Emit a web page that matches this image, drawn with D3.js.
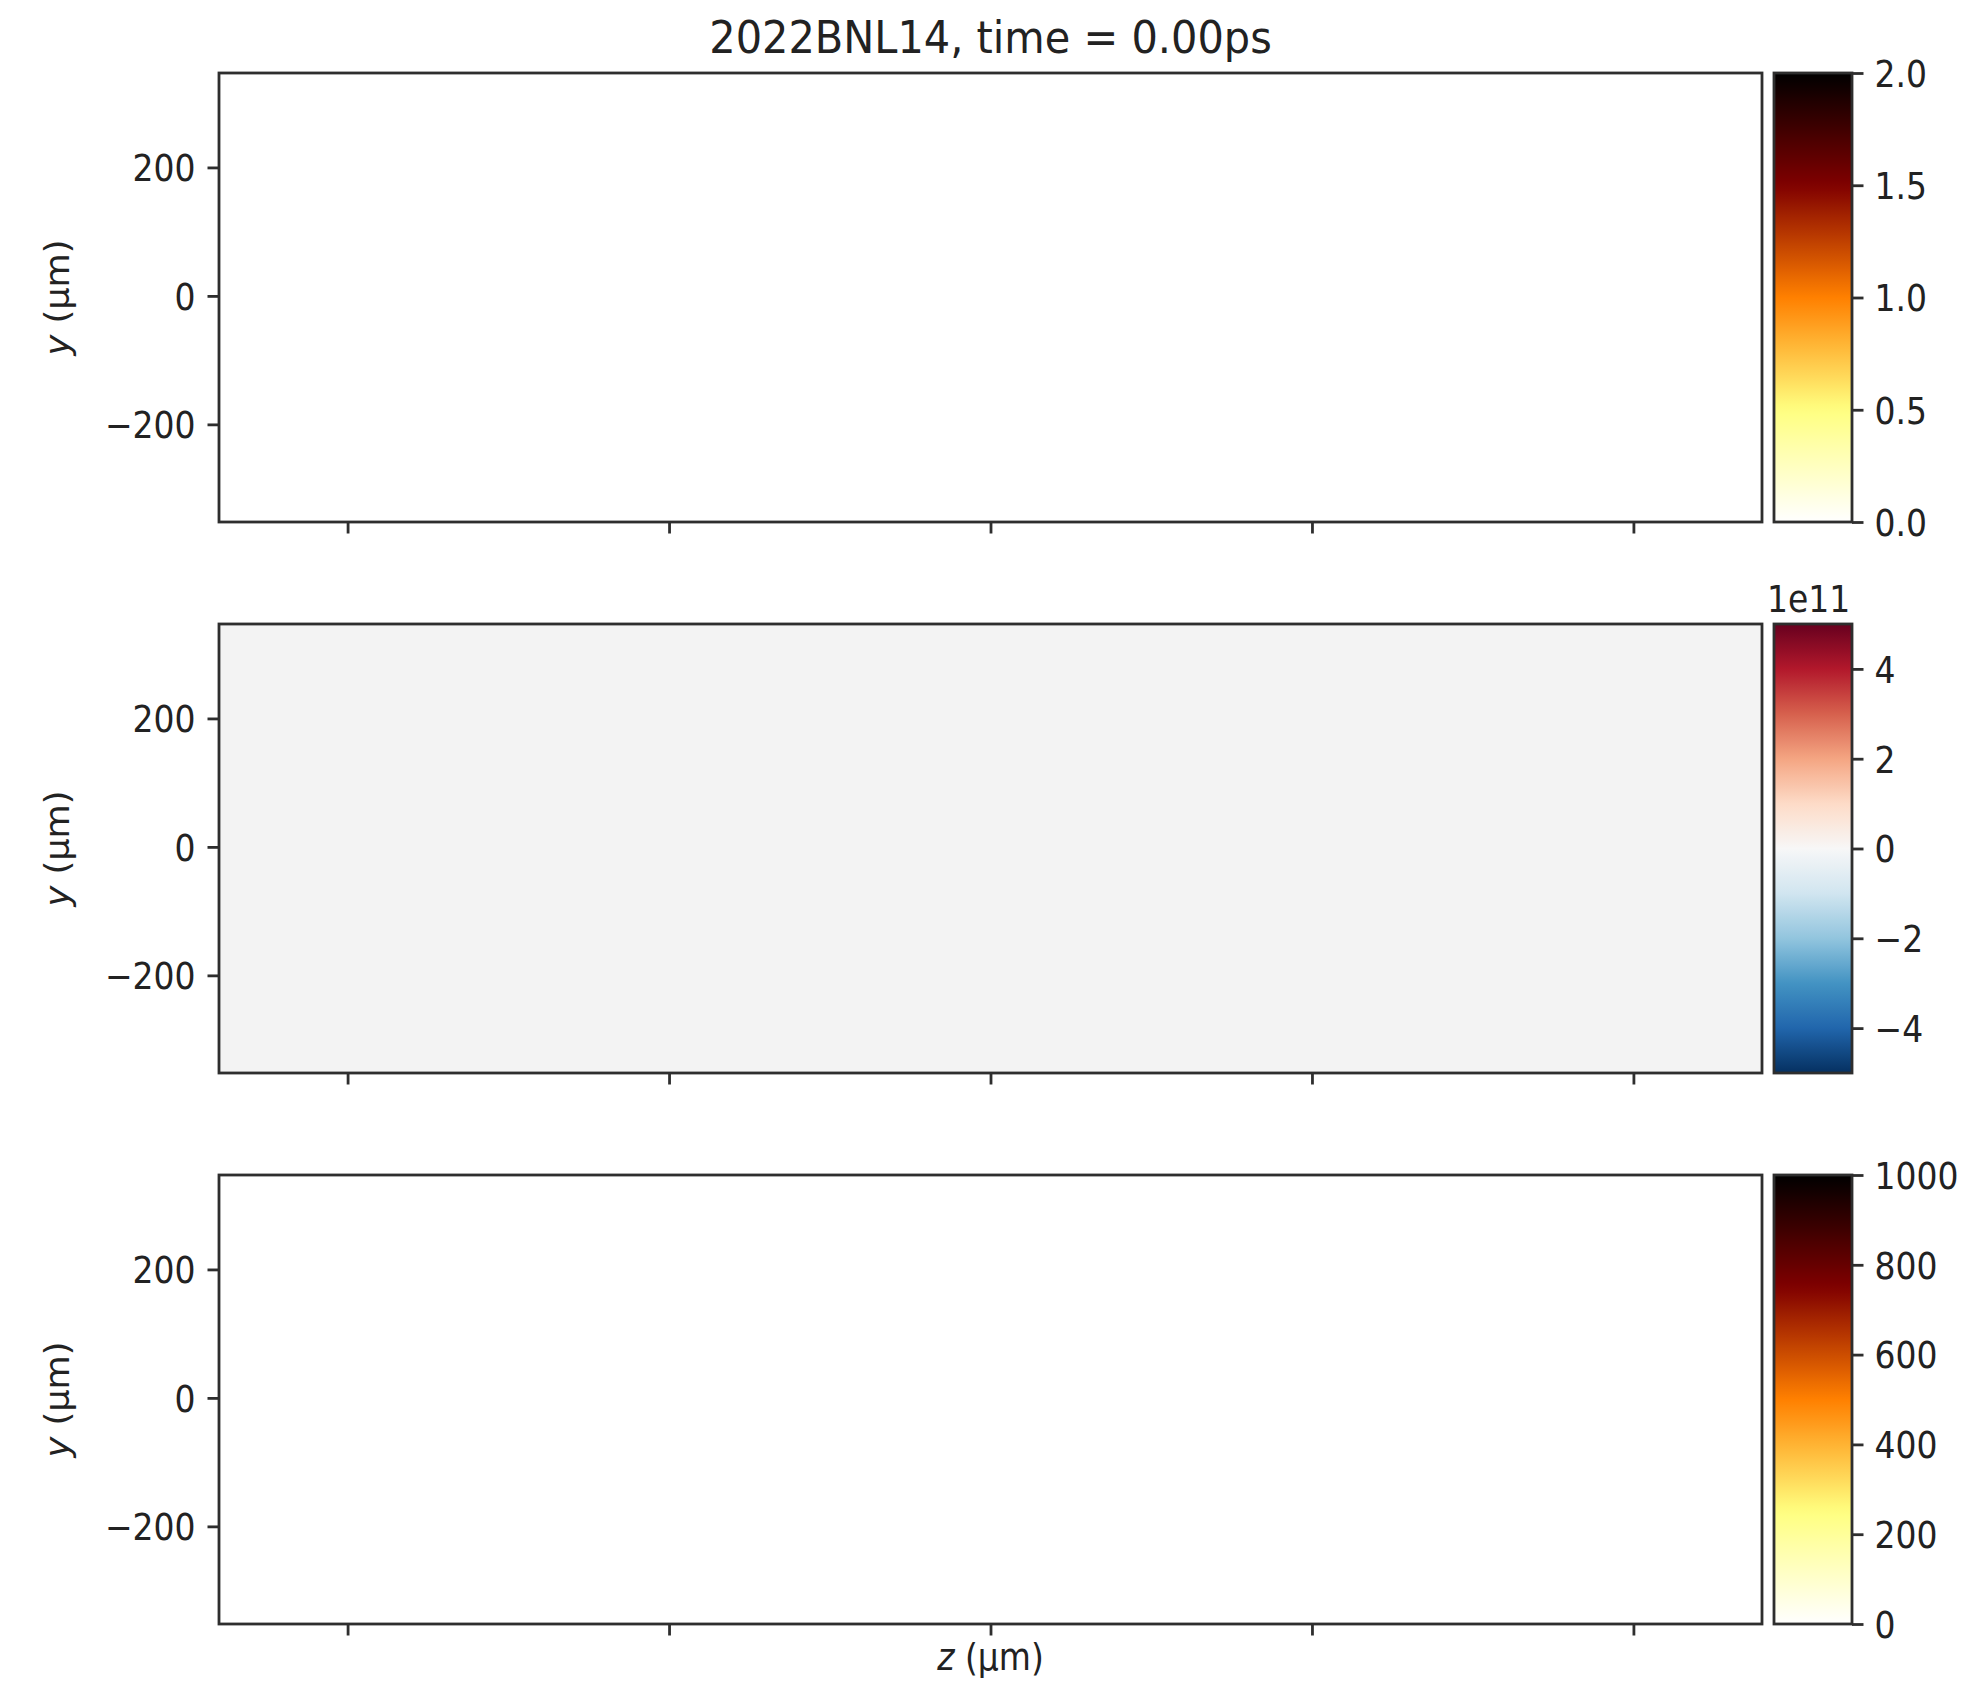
<!DOCTYPE html>
<html>
<head>
<meta charset="utf-8">
<script src="https://cdn.jsdelivr.net/npm/d3@7"></script>
<style>
  html, body { margin: 0; padding: 0; background: #ffffff; }
  svg { display: block; }
  text { font-family: "DejaVu Sans", sans-serif; fill: #222; }
</style>
</head>
<body>
<svg id="chart" width="1972" height="1682"></svg>
<script>
// ---------------- data ----------------
const titleText = "2022BNL14, time = 0.00ps";
const zDomain = [-1200, 1200];          // z (µm) extent of the map
const yDomain = [-352, 347];            // y (µm) extent of the map
const zTicks = [-1000, -500, 0, 500, 1000];
const yTicks = [-200, 0, 200];
// one grid cell per panel (the whole field is uniform at t = 0)
const zEdges = [-1200, 1200];
const yEdges = [-352, 347];
const densityValues = [0];              // panel 1, colour range 0..2
const fieldValues = [0];                // panel 2, units of 1e11, range -5..5
const temperatureValues = [0];          // panel 3, range 0..1000
const cbDomain1 = [0, 2];
const cbDomain2 = [-5, 5];
const cbDomain3 = [0, 1000];
const cbTicks1 = [0, 0.5, 1.0, 1.5, 2.0];
const cbTicks2 = [-4, -2, 0, 2, 4];
const cbTicks3 = [0, 200, 400, 600, 800, 1000];
const cbOffsetText = ["", "1e11", ""];

// ---------------- colormaps ----------------
// matplotlib afmhot_r (piecewise linear, exact stops)
const afmhotR = ["#ffffff", "#ffff80", "#ff8000", "#800000", "#000000"];
// matplotlib RdBu_r (ColorBrewer 11)
const rdbuR = ["#053061", "#2166ac", "#4393c3", "#92c5de", "#d1e5f0", "#f7f7f7",
               "#fddbc7", "#f4a582", "#d6604d", "#b2182b", "#67001f"];
function cmapScale(domain, colors) {
  const stops = colors.map((c, i) => domain[0] + (domain[1] - domain[0]) * i / (colors.length - 1));
  return d3.scaleLinear().domain(stops).range(colors).interpolate(d3.interpolateRgb).clamp(true);
}

const panelsDef = [
  { values: densityValues, cdomain: cbDomain1, cmap: afmhotR, cticks: cbTicks1, fmt: d3.format(".1f") },
  { values: fieldValues, cdomain: cbDomain2, cmap: rdbuR, cticks: cbTicks2, fmt: d => d3.format("d")(d).replace("-", "\u2212") },
  { values: temperatureValues, cdomain: cbDomain3, cmap: afmhotR, cticks: cbTicks3, fmt: d3.format("d") }
];

// ---------------- layout ----------------
const L = 219, R = 1762;
const tops = [73, 624, 1175];
const H = 449;
const cbL = 1774, cbR = 1852;
const tickLen = 11.5;
const fs = 33;
const stretch = 1.12;       // glyphs in the reference are slightly tall
const lineCol = "#2e2e2e", lineW = 2.8;

const svg = d3.select("#chart");
const defs = svg.append("defs");

const x = d3.scaleLinear().domain(zDomain).range([L, R]);

function stretchTicks(sel) {
  sel.selectAll(".tick text").each(function () {
    const t = d3.select(this);
    const tx = +t.attr("x") || 0, ty = +t.attr("y") || 0;
    t.attr("x", 0).attr("y", 0)
      .attr("transform", `translate(${tx},${ty}) scale(1,${stretch})`);
  });
}

svg.append("text")
  .attr("transform", `translate(${(L + R) / 2},53) scale(1,${stretch * 0.97})`)
  .attr("text-anchor", "middle")
  .style("font-size", "41.5px")
  .text(titleText);

panelsDef.forEach((p, i) => {
  const top = tops[i], bottom = top + H;
  const y = d3.scaleLinear().domain(yDomain).range([bottom, top]);
  const color = cmapScale(p.cdomain, p.cmap);
  const g = svg.append("g");

  // heat-map cells
  const cells = [];
  for (let yi = 0; yi < yEdges.length - 1; yi++)
    for (let zi = 0; zi < zEdges.length - 1; zi++)
      cells.push({ z0: zEdges[zi], z1: zEdges[zi + 1], y0: yEdges[yi], y1: yEdges[yi + 1],
                   v: p.values[yi * (zEdges.length - 1) + zi] });
  g.selectAll("rect.cell").data(cells).join("rect")
    .attr("class", "cell")
    .attr("x", d => x(d.z0)).attr("width", d => x(d.z1) - x(d.z0))
    .attr("y", d => y(d.y1)).attr("height", d => y(d.y0) - y(d.y1))
    .attr("fill", d => i === 1 ? d3.color(color(d.v)).darker(0.05) : color(d.v));

  // axes
  const ay = g.append("g").attr("transform", `translate(${L},0)`)
    .call(d3.axisLeft(y).tickValues(yTicks).tickSizeOuter(0).tickSize(tickLen).tickPadding(12)
      .tickFormat(d => d3.format("d")(d).replace("-", "\u2212")));
  const ax = g.append("g").attr("transform", `translate(0,${bottom})`)
    .call(d3.axisBottom(x).tickValues(zTicks).tickSizeOuter(0).tickSize(tickLen).tickFormat(""));
  [ay, ax].forEach(a => {
    a.select(".domain").remove();
    a.selectAll(".tick line").attr("stroke", lineCol).attr("stroke-width", lineW);
    a.selectAll(".tick text").style("font-size", fs + "px").attr("fill", "#222")
      .style("font-family", "DejaVu Sans");
  });
  ay.selectAll(".tick text").attr("dy", "0.36em");
  stretchTicks(ay);

  // frame
  g.append("rect").attr("x", L).attr("y", top).attr("width", R - L).attr("height", H)
    .attr("fill", "none").attr("stroke", lineCol).attr("stroke-width", lineW);

  // y label
  const yl = g.append("text")
    .attr("transform", `translate(69,${(top + bottom) / 2}) rotate(-90) scale(${stretch * 0.95},1)`)
    .attr("text-anchor", "middle").style("font-size", fs + "px");
  yl.append("tspan").style("font-style", "italic").text("y");
  yl.append("tspan").text(" (\u03bcm)");

  // colorbar
  const cy = d3.scaleLinear().domain(p.cdomain).range([bottom, top]);
  const gid = "cbgrad" + i;
  const grad = defs.append("linearGradient").attr("id", gid)
    .attr("x1", 0).attr("y1", 1).attr("x2", 0).attr("y2", 0);
  d3.range(0, 1.0001, 0.02).forEach(t => {
    grad.append("stop").attr("offset", t)
      .attr("stop-color", color(p.cdomain[0] + t * (p.cdomain[1] - p.cdomain[0])));
  });
  g.append("rect").attr("x", cbL).attr("y", cy(p.cdomain[1])).attr("width", cbR - cbL)
    .attr("height", cy(p.cdomain[0]) - cy(p.cdomain[1])).attr("fill", `url(#${gid})`)
    .attr("stroke", lineCol).attr("stroke-width", lineW);
  const ac = g.append("g").attr("transform", `translate(${cbR},0)`)
    .call(d3.axisRight(cy).tickValues(p.cticks).tickSizeOuter(0).tickSize(tickLen).tickPadding(11)
      .tickFormat(p.fmt));
  ac.select(".domain").remove();
  ac.selectAll(".tick line").attr("stroke", lineCol).attr("stroke-width", lineW);
  ac.selectAll(".tick text").style("font-size", fs + "px").attr("fill", "#222")
    .attr("dy", "0.36em").style("font-family", "DejaVu Sans");
  stretchTicks(ac);
  if (cbOffsetText[i]) {
    g.append("text").attr("transform", `translate(1767,${top - 12}) scale(1,${stretch})`)
      .style("font-size", fs + "px").text(cbOffsetText[i]);
  }
});

// x label
const xl = svg.append("text")
  .attr("transform", `translate(${(L + R) / 2},1670) scale(1,${stretch})`)
  .attr("text-anchor", "middle").style("font-size", fs + "px");
xl.append("tspan").style("font-style", "italic").text("z");
xl.append("tspan").text(" (\u03bcm)");
</script>
</body>
</html>
